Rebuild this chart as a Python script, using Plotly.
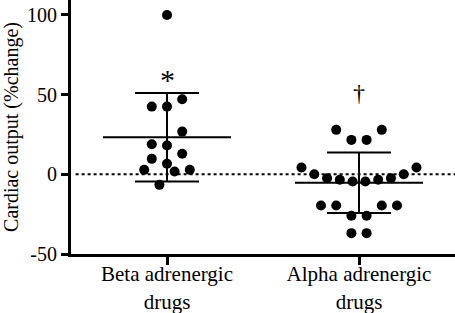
import numpy as np
import plotly.graph_objects as go

# ---- data ----
categories = ["Beta adrenergic<br>drugs", "Alpha adrenergic<br>drugs"]
beta_values = [100, 47.1, 42.5, 42.5, 26.8, 18.9, 18.1, 12.9, 9.7, 6.6, 2.8, 1.8, 2.8, -6.6]
alpha_values = [27.9, 27.9, 21.6, 21.6, 4.3, 4.3, 0.1, 0.1, -2.4, -2.4, -3.4, -3.4,
                -4.5, -4.5, -19.6, -19.6, -19.6, -19.6, -26.0, -26.0, -36.9, -36.9]
significance = ["*", "†"]
y_tickvals = [-50, 0, 50, 100]

groups = [beta_values, alpha_values]

# ---- layout constants ----
W, H = 455, 313
ML, MR, MT, MB = 71, 0, 0, 59
XR = [-0.5, 1.5]
YR = [-50, 109.4]
FONT = "Liberation Serif, Times New Roman, serif"
px_per_x = (W - ML - MR) / (XR[1] - XR[0])
ANNOT_Y = [59.5, 50.8]          # vertical placement of the significance marks
ANNOT_SIZE = [30, 24]

ROW_H = 10.0      # value units per swarm row
STEP = 15.2       # px between neighbours in a row
MAX_HALF = 57.5   # px max half width of a row


def swarm_offsets(vals):
    """GraphPad-like row swarm: bins values into rows, spreads each row symmetrically."""
    order = np.argsort(vals, kind="stable")
    v = np.asarray(vals, float)
    rows, cur, start = [], [], None
    for i in order:
        if start is None or v[i] - start > ROW_H:
            if cur:
                rows.append(cur)
            cur, start = [i], v[i]
        else:
            cur.append(i)
    if cur:
        rows.append(cur)
    off = np.zeros(len(v))
    for r in rows:
        n = len(r)
        if n % 2:
            slots = [0] + [s * k for k in range(2, n + 1, 2) for s in (-1, 1)]
        else:
            slots = [s * k for k in range(1, n + 1, 2) for s in (-1, 1)]
        slots = slots[:n]
        half = STEP / 2
        span = max(abs(s) for s in slots) * half
        if span > MAX_HALF:
            half = MAX_HALF / max(abs(s) for s in slots)
        for idx, s in zip(r, slots):
            off[idx] = s * half / px_per_x
    return off


fig = go.Figure()

# zero reference line
fig.add_shape(type="line", xref="paper", x0=0.012, x1=1, yref="y", y0=0, y1=0,
              line=dict(color="black", width=2, dash="dot"), layer="below")

for ci, vals in enumerate(groups):
    offs = swarm_offsets(vals)
    fig.add_trace(go.Scatter(
        x=ci + offs, y=vals, mode="markers",
        marker=dict(color="black", size=10, line=dict(width=0)),
        showlegend=False, hoverinfo="y"))
    m = float(np.mean(vals))
    sd = float(np.std(vals, ddof=1))
    # mean line
    fig.add_trace(go.Scatter(
        x=[ci - 64 / px_per_x, ci + 64 / px_per_x], y=[m, m], mode="lines",
        line=dict(color="black", width=2), showlegend=False, hoverinfo="skip"))
    # SD bars
    fig.add_trace(go.Scatter(
        x=[ci], y=[m], mode="markers", marker=dict(size=0.1, color="black"),
        error_y=dict(type="data", array=[sd], visible=True, color="black",
                     thickness=2, width=32),
        showlegend=False, hoverinfo="skip"))
    # significance mark
    fig.add_annotation(x=ci, y=ANNOT_Y[ci], text=significance[ci],
                       showarrow=False, yanchor="middle",
                       font=dict(family=FONT, size=ANNOT_SIZE[ci], color="#000000"))

fig.update_layout(
    width=W, height=H,
    margin=dict(l=ML, r=MR, t=MT, b=MB, pad=0),
    paper_bgcolor="white", plot_bgcolor="white",
    font=dict(family=FONT, size=20, color="black"),
    xaxis=dict(range=XR, tickvals=[0, 1], ticktext=categories, showgrid=False,
               zeroline=False, showline=True, linewidth=3, linecolor="black",
               ticks="outside", ticklen=8, tickwidth=3, tickcolor="black",
               automargin=False, ticklabelstandoff=-9,
               tickfont=dict(family=FONT, size=21)),
    yaxis=dict(range=YR, tickvals=y_tickvals,
               ticktext=[str(t) if t >= 0 else "-" + str(-t) for t in y_tickvals],
               showgrid=False, zeroline=False, automargin=False,
               showline=True, linewidth=3, linecolor="black",
               ticks="outside", ticklen=7, tickwidth=3, tickcolor="black",
               tickfont=dict(family=FONT, size=20),
               title=dict(text="Cardiac output (%change)", standoff=6,
                          font=dict(family=FONT, size=20))),
)

fig.write_html("out.html", config={"displayModeBar": False},
               post_script="document.body.style.margin='0px';document.body.style.overflow='hidden';")
